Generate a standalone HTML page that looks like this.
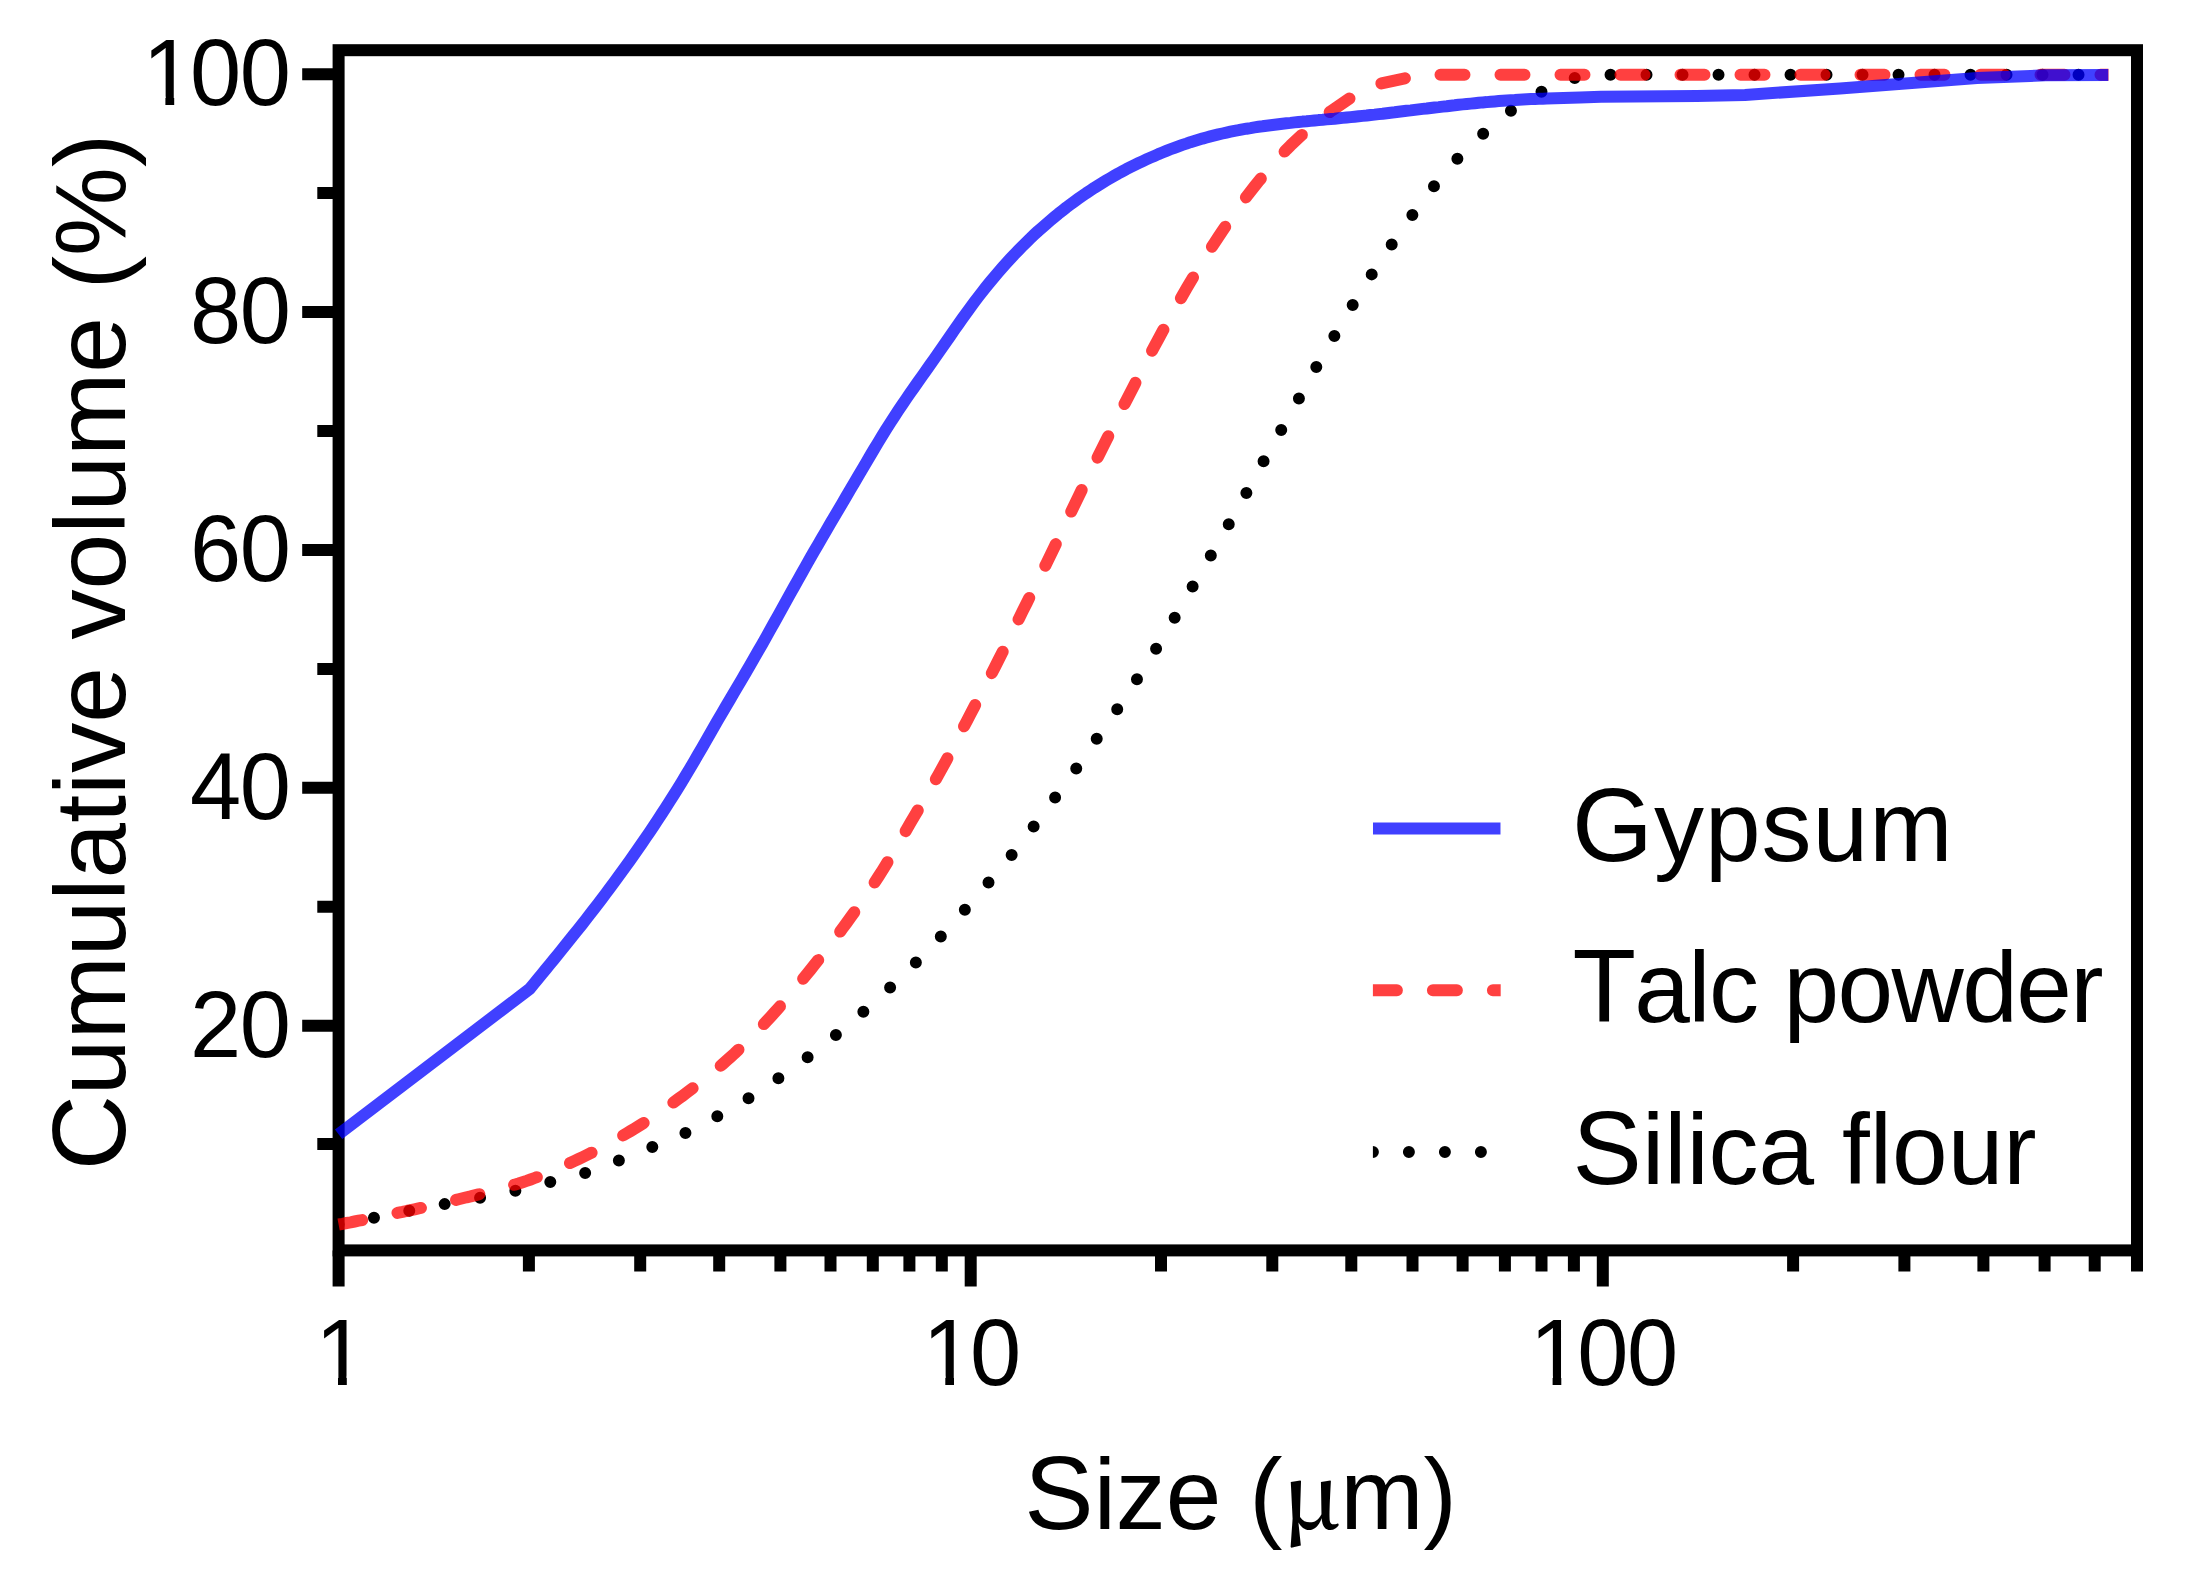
<!DOCTYPE html>
<html lang="en"><head><meta charset="utf-8"><title>Cumulative volume vs size</title>
<style>html,body{margin:0;padding:0;background:#fff}body{width:2190px;height:1595px;overflow:hidden}svg{display:block;filter:blur(0.7px)}text{font-family:"Liberation Sans",Arial,sans-serif;fill:#000;font-kerning:none}.tk{font-size:92px}.ti{font-size:100px}.cap{font-size:104px}.mu{font-family:"Noto Serif CJK SC","Liberation Serif",serif;font-size:90px;font-weight:600}</style></head><body>
<svg width="2190" height="1595" viewBox="0 0 2190 1595">
<rect width="2190" height="1595" fill="#fff"/>
<g fill="none" stroke="#000" stroke-width="12" stroke-linecap="butt">
<rect x="338.6" y="50.2" width="1798.4" height="1200.2"/>
<path d="M302.2 74.2H338.6M302.2 312.1H338.6M302.2 550.0H338.6M302.2 787.8H338.6M302.2 1025.7H338.6M317.3 193.1H338.6M317.3 431.0H338.6M317.3 668.9H338.6M317.3 906.8H338.6M317.3 1143.9H338.6M338.6 1250.4V1286.4M528.9 1250.4V1271.4M640.2 1250.4V1271.4M719.2 1250.4V1271.4M780.4 1250.4V1271.4M830.5 1250.4V1271.4M872.8 1250.4V1271.4M909.4 1250.4V1271.4M941.8 1250.4V1271.4M970.7 1250.4V1286.4M1161.0 1250.4V1271.4M1272.3 1250.4V1271.4M1351.3 1250.4V1271.4M1412.5 1250.4V1271.4M1462.6 1250.4V1271.4M1504.9 1250.4V1271.4M1541.5 1250.4V1271.4M1573.9 1250.4V1271.4M1602.8 1250.4V1286.4M1793.1 1250.4V1271.4M1904.4 1250.4V1271.4M1983.4 1250.4V1271.4M2044.6 1250.4V1271.4M2094.7 1250.4V1271.4M2137.0 1250.4V1271.4"/>
</g>
<defs><clipPath id="cp"><path d="M342.3 1244.2L334.9 1204.8V0H2108.5V1300H342.3Z"/></clipPath></defs>
<g fill="none" stroke-width="12" stroke-linejoin="round" clip-path="url(#cp)">
<polyline points="338.6,1224.5 342.6,1223.8 346.6,1223.0 350.6,1222.3 354.6,1221.6 358.6,1220.8 362.6,1220.0 366.6,1219.3 370.6,1218.5 374.6,1217.7 378.6,1216.9 382.6,1216.1 386.6,1215.3 390.6,1214.5 394.6,1213.7 398.6,1212.8 402.5,1212.0 406.5,1211.2 410.5,1210.5 414.5,1209.7 418.5,1208.9 422.5,1208.2 426.5,1207.4 430.5,1206.7 434.5,1206.0 438.5,1205.2 442.5,1204.5 446.5,1203.8 450.5,1203.0 454.5,1202.3 458.5,1201.6 462.5,1200.9 466.5,1200.2 470.5,1199.5 474.5,1198.8 478.5,1198.0 482.5,1197.3 486.5,1196.5 490.5,1195.8 494.5,1195.0 498.5,1194.2 502.5,1193.4 506.5,1192.6 510.5,1191.7 514.5,1190.9 518.5,1190.0 522.4,1189.0 526.4,1188.1 530.4,1187.0 534.4,1186.0 538.4,1185.0 542.4,1183.9 546.4,1182.9 550.4,1181.9 554.4,1180.9 558.4,1179.9 562.4,1178.9 566.4,1178.0 570.4,1177.0 574.4,1176.0 578.4,1174.9 582.4,1173.8 586.4,1172.6 590.4,1171.3 594.4,1169.9 598.4,1168.4 602.4,1166.9 606.4,1165.3 610.4,1163.8 614.4,1162.2 618.4,1160.6 622.4,1159.1 626.4,1157.5 630.4,1155.9 634.4,1154.3 638.4,1152.7 642.3,1151.1 646.3,1149.5 650.3,1147.9 654.3,1146.2 658.3,1144.6 662.3,1142.9 666.3,1141.3 670.3,1139.6 674.3,1137.9 678.3,1136.2 682.3,1134.4 686.3,1132.6 690.3,1130.6 694.3,1128.6 698.3,1126.5 702.3,1124.4 706.3,1122.3 710.3,1120.1 714.3,1117.9 718.3,1115.7 722.3,1113.5 726.3,1111.3 730.3,1109.0 734.3,1106.7 738.3,1104.4 742.3,1102.1 746.3,1099.7 750.3,1097.2 754.3,1094.7 758.3,1092.1 762.2,1089.4 766.2,1086.7 770.2,1083.9 774.2,1081.1 778.2,1078.4 782.2,1075.6 786.2,1072.8 790.2,1069.9 794.2,1067.1 798.2,1064.2 802.2,1061.2 806.2,1058.3 810.2,1055.3 814.2,1052.2 818.2,1049.1 822.2,1046.0 826.2,1042.8 830.2,1039.6 834.2,1036.3 838.2,1033.1 842.2,1029.8 846.2,1026.4 850.2,1023.0 854.2,1019.6 858.2,1016.1 862.2,1012.7 866.2,1009.2 870.2,1005.7 874.2,1002.1 878.2,998.6 882.1,995.0 886.1,991.3 890.1,987.6 894.1,983.9 898.1,980.0 902.1,976.1 906.1,972.2 910.1,968.2 914.1,964.2 918.1,960.2 922.1,956.1 926.1,952.0 930.1,947.8 934.1,943.7 938.1,939.4 942.1,935.1 946.1,930.8 950.1,926.3 954.1,921.9 958.1,917.4 962.1,912.8 966.1,908.3 970.1,903.8 974.1,899.2 978.1,894.6 982.1,890.0 986.1,885.4 990.1,880.7 994.1,876.1 998.1,871.4 1002.0,866.7 1006.0,861.9 1010.0,857.0 1014.0,852.1 1018.0,847.0 1022.0,841.8 1026.0,836.6 1030.0,831.3 1034.0,826.0 1038.0,820.7 1042.0,815.3 1046.0,809.9 1050.0,804.5 1054.0,799.1 1058.0,793.6 1062.0,788.2 1066.0,782.7 1070.0,777.2 1074.0,771.6 1078.0,766.0 1082.0,760.2 1086.0,754.4 1090.0,748.6 1094.0,742.8 1098.0,737.0 1102.0,731.3 1106.0,725.5 1110.0,719.8 1114.0,714.0 1118.0,708.1 1121.9,702.2 1125.9,696.1 1129.9,690.0 1133.9,683.9 1137.9,677.7 1141.9,671.4 1145.9,665.0 1149.9,658.6 1153.9,652.2 1157.9,645.7 1161.9,639.1 1165.9,632.5 1169.9,625.8 1173.9,619.1 1177.9,612.3 1181.9,605.3 1185.9,598.3 1189.9,591.3 1193.9,584.4 1197.9,577.6 1201.9,570.7 1205.9,563.9 1209.9,557.1 1213.9,550.2 1217.9,543.3 1221.9,536.3 1225.9,529.3 1229.9,522.3 1233.9,515.3 1237.9,508.3 1241.8,501.2 1245.8,494.0 1249.8,486.7 1253.8,479.3 1257.8,471.9 1261.8,464.5 1265.8,457.3 1269.8,450.1 1273.8,443.0 1277.8,436.0 1281.8,428.9 1285.8,421.8 1289.8,414.8 1293.8,407.7 1297.8,400.6 1301.8,393.4 1305.8,386.1 1309.8,378.8 1313.8,371.5 1317.8,364.4 1321.8,357.4 1325.8,350.5 1329.8,343.7 1333.8,336.9 1337.8,330.0 1341.8,323.2 1345.8,316.4 1349.8,309.7 1353.8,303.1 1357.8,296.6 1361.7,290.1 1365.7,283.7 1369.7,277.5 1373.7,271.3 1377.7,265.2 1381.7,259.2 1385.7,253.3 1389.7,247.4 1393.7,241.5 1397.7,235.7 1401.7,230.0 1405.7,224.3 1409.7,218.7 1413.7,213.1 1417.7,207.6 1421.7,202.2 1425.7,196.8 1429.7,191.6 1433.7,186.5 1437.7,181.6 1441.7,176.7 1445.7,171.9 1449.7,167.3 1453.7,162.8 1457.7,158.5 1461.7,154.3 1465.7,150.3 1469.7,146.3 1473.7,142.5 1477.7,138.7 1481.6,135.1 1485.6,131.5 1489.6,128.0 1493.6,124.6 1497.6,121.2 1501.6,117.9 1505.6,114.8 1509.6,111.8 1513.6,109.0 1517.6,106.3 1521.6,103.6 1525.6,101.0 1529.6,98.6 1533.6,96.2 1537.6,93.9 1541.6,91.8 1574.8,78.0 1602.8,74.7 2108.5,74.7" stroke="#000" stroke-linecap="round" stroke-dasharray="0 36"/>
<polyline points="338.6,1224.5 342.6,1223.8 346.6,1223.0 350.6,1222.3 354.6,1221.5 358.6,1220.7 362.6,1220.0 366.6,1219.2 370.6,1218.4 374.6,1217.6 378.6,1216.8 382.6,1216.0 386.6,1215.2 390.6,1214.4 394.6,1213.5 398.6,1212.7 402.6,1211.9 406.6,1211.0 410.6,1210.2 414.6,1209.3 418.6,1208.4 422.6,1207.6 426.6,1206.7 430.6,1205.8 434.6,1204.9 438.6,1204.0 442.6,1203.1 446.6,1202.2 450.6,1201.2 454.6,1200.3 458.6,1199.3 462.6,1198.3 466.6,1197.3 470.6,1196.4 474.6,1195.4 478.6,1194.4 482.6,1193.4 486.6,1192.4 490.6,1191.3 494.6,1190.3 498.6,1189.2 502.6,1188.1 506.6,1187.0 510.6,1185.9 514.6,1184.7 518.6,1183.5 522.6,1182.2 526.6,1180.9 530.6,1179.5 534.6,1178.0 538.6,1176.5 542.6,1174.9 546.6,1173.3 550.6,1171.7 554.6,1169.9 558.6,1168.2 562.6,1166.4 566.6,1164.6 570.6,1162.8 574.6,1160.9 578.6,1159.0 582.6,1157.1 586.6,1155.2 590.6,1153.2 594.6,1151.1 598.6,1149.0 602.6,1146.9 606.6,1144.8 610.6,1142.6 614.6,1140.3 618.6,1138.0 622.6,1135.7 626.6,1133.4 630.6,1131.0 634.6,1128.6 638.6,1126.1 642.6,1123.6 646.6,1121.0 650.6,1118.3 654.6,1115.7 658.6,1112.9 662.6,1110.2 666.6,1107.3 670.6,1104.5 674.6,1101.6 678.6,1098.7 682.6,1095.8 686.6,1092.8 690.6,1089.8 694.6,1086.8 698.6,1083.7 702.6,1080.6 706.6,1077.4 710.6,1074.2 714.6,1070.9 718.6,1067.5 722.6,1064.1 726.6,1060.6 730.6,1057.0 734.6,1053.4 738.6,1049.6 742.6,1045.8 746.6,1041.8 750.6,1037.8 754.6,1033.7 758.6,1029.6 762.6,1025.4 766.6,1021.1 770.6,1016.8 774.6,1012.4 778.6,1007.9 782.6,1003.3 786.6,998.7 790.6,994.0 794.6,989.2 798.6,984.3 802.6,979.4 806.6,974.5 810.6,969.6 814.6,964.6 818.6,959.6 822.6,954.5 826.6,949.4 830.6,944.2 834.6,939.0 838.6,933.7 842.6,928.3 846.6,922.9 850.6,917.3 854.6,911.7 858.6,906.1 862.6,900.3 866.6,894.5 870.6,888.6 874.6,882.5 878.6,876.4 882.6,870.1 886.6,863.6 890.6,857.0 894.6,850.2 898.6,843.3 902.6,836.4 906.6,829.5 910.6,822.6 914.6,815.8 918.6,809.0 922.6,802.2 926.6,795.4 930.6,788.5 934.6,781.5 938.6,774.4 942.6,767.2 946.6,759.8 950.6,752.2 954.6,744.6 958.6,736.8 962.6,729.1 966.6,721.4 970.6,713.7 974.6,706.1 978.6,698.4 982.6,690.8 986.6,683.2 990.6,675.5 994.6,667.7 998.6,659.8 1002.6,651.9 1006.6,643.8 1010.6,635.6 1014.6,627.5 1018.6,619.3 1022.6,611.2 1026.6,603.2 1030.6,595.2 1034.6,587.2 1038.6,579.2 1042.6,571.1 1046.6,563.1 1050.6,554.9 1054.6,546.6 1058.6,538.2 1062.6,529.8 1066.6,521.4 1070.6,512.9 1074.6,504.6 1078.6,496.3 1082.6,488.1 1086.6,479.9 1090.6,471.8 1094.6,463.6 1098.6,455.5 1102.6,447.5 1106.6,439.5 1110.6,431.5 1114.6,423.6 1118.6,415.7 1122.6,407.8 1126.6,400.0 1130.6,392.2 1134.6,384.4 1138.6,376.6 1142.6,368.9 1146.6,361.2 1150.6,353.6 1154.6,346.0 1158.6,338.6 1162.6,331.2 1166.6,323.8 1170.6,316.5 1174.6,309.3 1178.6,302.2 1182.6,295.2 1186.6,288.3 1190.6,281.5 1194.6,274.8 1198.6,268.2 1202.6,261.7 1206.6,255.2 1210.6,248.9 1214.6,242.7 1218.6,236.6 1222.6,230.6 1226.6,224.7 1230.6,218.8 1234.6,213.0 1238.6,207.4 1242.6,201.9 1246.6,196.5 1250.6,191.3 1254.6,186.2 1258.6,181.3 1262.6,176.4 1266.6,171.6 1270.6,166.9 1274.6,162.3 1278.6,157.9 1282.6,153.6 1286.6,149.4 1290.6,145.4 1294.6,141.6 1298.6,137.9 1302.6,134.2 1306.6,130.7 1310.6,127.2 1314.6,123.8 1318.6,120.6 1322.6,117.4 1326.6,114.4 1330.6,111.4 1334.6,108.7 1338.6,106.0 1367.0,86.5 1393.2,80.8 1422.0,74.7 2108.5,74.7" stroke="#f00" stroke-opacity="0.75" stroke-linecap="round" stroke-dasharray="24 36"/>
<polyline points="338.6,1134.2 529.7,988.9 533.7,984.0 537.7,979.2 541.7,974.3 545.7,969.4 549.7,964.5 553.7,959.6 557.7,954.7 561.7,949.8 565.7,944.8 569.7,939.8 573.7,934.8 577.8,929.8 581.8,924.7 585.8,919.6 589.8,914.4 593.8,909.3 597.8,904.1 601.8,898.8 605.8,893.5 609.8,888.2 613.8,882.8 617.8,877.3 621.8,871.8 625.8,866.3 629.8,860.7 633.8,855.0 637.8,849.3 641.8,843.5 645.8,837.7 649.8,831.8 653.8,825.8 657.8,819.7 661.8,813.6 665.8,807.4 669.9,801.1 673.9,794.8 677.9,788.3 681.9,781.8 685.9,775.2 689.9,768.5 693.9,761.7 697.9,754.8 701.9,747.9 705.9,741.0 709.9,734.0 713.9,727.0 717.9,720.1 721.9,713.2 725.9,706.4 729.9,699.6 733.9,692.8 737.9,686.0 741.9,679.2 745.9,672.4 749.9,665.5 753.9,658.6 757.9,651.6 762.0,644.5 766.0,637.4 770.0,630.2 774.0,623.0 778.0,615.8 782.0,608.6 786.0,601.4 790.0,594.2 794.0,587.0 798.0,579.8 802.0,572.7 806.0,565.6 810.0,558.6 814.0,551.6 818.0,544.7 822.0,537.8 826.0,531.0 830.0,524.1 834.0,517.3 838.0,510.5 842.0,503.7 846.0,496.9 850.0,490.0 854.1,483.2 858.1,476.3 862.1,469.5 866.1,462.7 870.1,455.9 874.1,449.1 878.1,442.5 882.1,435.9 886.1,429.4 890.1,423.1 894.1,416.9 898.1,410.8 902.1,404.9 906.1,399.0 910.1,393.2 914.1,387.5 918.1,381.8 922.1,376.1 926.1,370.5 930.1,364.8 934.1,359.1 938.1,353.4 942.1,347.6 946.2,341.8 950.2,336.0 954.2,330.2 958.2,324.5 962.2,318.8 966.2,313.2 970.2,307.7 974.2,302.3 978.2,297.0 982.2,291.9 986.2,286.8 990.2,281.9 994.2,277.1 998.2,272.4 1002.2,267.8 1006.2,263.3 1010.2,258.9 1014.2,254.6 1018.2,250.5 1022.2,246.4 1026.2,242.4 1030.2,238.5 1034.2,234.7 1038.2,231.0 1042.3,227.4 1046.3,223.9 1050.3,220.5 1054.3,217.1 1058.3,213.8 1062.3,210.7 1066.3,207.5 1070.3,204.5 1074.3,201.6 1078.3,198.7 1082.3,195.9 1086.3,193.1 1090.3,190.5 1094.3,187.8 1098.3,185.3 1102.3,182.8 1106.3,180.4 1110.3,178.1 1114.3,175.8 1118.3,173.5 1122.3,171.4 1126.3,169.2 1130.3,167.2 1134.4,165.2 1138.4,163.2 1142.4,161.3 1146.4,159.4 1150.4,157.6 1154.4,155.9 1158.4,154.1 1162.4,152.5 1166.4,150.9 1170.4,149.3 1174.4,147.8 1178.4,146.3 1182.4,144.9 1186.4,143.6 1190.4,142.2 1194.4,141.0 1198.4,139.8 1202.4,138.6 1206.4,137.5 1210.4,136.4 1214.4,135.4 1218.4,134.4 1222.4,133.5 1226.5,132.6 1230.5,131.7 1234.5,130.9 1238.5,130.2 1242.5,129.4 1246.5,128.7 1250.5,128.1 1254.5,127.4 1258.5,126.8 1262.5,126.3 1266.5,125.7 1270.5,125.2 1274.5,124.7 1278.5,124.2 1282.5,123.7 1286.5,123.3 1290.5,122.9 1294.5,122.4 1298.5,122.0 1302.5,121.6 1306.5,121.3 1310.5,120.9 1314.5,120.5 1318.6,120.1 1322.6,119.8 1326.6,119.4 1330.6,119.0 1334.6,118.7 1338.6,118.3 1342.6,117.9 1346.6,117.5 1350.6,117.1 1354.6,116.7 1358.6,116.3 1362.6,115.9 1366.6,115.5 1370.6,115.0 1374.6,114.6 1378.6,114.1 1382.6,113.7 1386.6,113.2 1390.6,112.7 1394.6,112.3 1398.6,111.8 1402.6,111.3 1406.6,110.8 1410.7,110.4 1414.7,109.9 1418.7,109.4 1422.7,108.9 1426.7,108.5 1430.7,108.0 1434.7,107.5 1438.7,107.1 1442.7,106.6 1446.7,106.2 1450.7,105.7 1454.7,105.3 1458.7,104.8 1462.7,104.4 1466.7,104.0 1470.7,103.6 1474.7,103.2 1478.7,102.8 1482.7,102.4 1486.7,102.1 1490.7,101.7 1494.7,101.4 1498.7,101.1 1502.8,100.8 1506.8,100.5 1510.8,100.2 1514.8,100.0 1518.8,99.7 1522.8,99.5 1526.8,99.3 1530.8,99.1 1534.8,99.0 1538.8,98.8 1542.8,98.7 1546.8,98.6 1580.0,97.4 1601.0,96.7 1697.0,95.9 1745.0,94.9 1840.0,88.5 1977.0,78.1 2045.5,75.3 2108.5,75.0" stroke="#00f" stroke-opacity="0.75" stroke-linecap="butt"/>
</g>
<text class="tk" transform="translate(0 105.20) scale(1 1.03)" x="142.6 190.1 239.7" y="0">100</text>
<text class="tk" transform="translate(0 343.08) scale(1 1.03)" x="190.1 239.7" y="0">80</text>
<text class="tk" transform="translate(0 580.96) scale(1 1.03)" x="190.1 239.7" y="0">60</text>
<text class="tk" transform="translate(0 818.84) scale(1 1.03)" x="190.1 239.7" y="0">40</text>
<text class="tk" transform="translate(0 1056.72) scale(1 1.03)" x="190.1 239.7" y="0">20</text>
<text class="tk" transform="translate(0 1384.50) scale(1 1.03)" x="315.2" y="0">1</text>
<text class="tk" transform="translate(0 1384.50) scale(1 1.03)" x="922.5 970.0" y="0">10</text>
<text class="tk" transform="translate(0 1384.50) scale(1 1.03)" x="1529.8 1577.2 1626.9" y="0">100</text>
<g fill="#fff"><rect x="148.1" y="96.5" width="17.3" height="10.3"/><rect x="174.2" y="96.5" width="16.9" height="10.3"/><rect x="320.7" y="1375.8" width="17.3" height="10.3"/><rect x="346.8" y="1375.8" width="16.9" height="10.3"/><rect x="928.0" y="1375.8" width="17.3" height="10.3"/><rect x="954.0" y="1375.8" width="16.9" height="10.3"/><rect x="1535.3" y="1375.8" width="17.3" height="10.3"/><rect x="1561.3" y="1375.8" width="16.9" height="10.3"/></g>
<text class="ti" text-anchor="middle" x="1240.6" y="1528.5"><tspan class="cap">S</tspan>ize (<tspan class="mu">μ</tspan>m)</text>
<text class="ti" text-anchor="middle" transform="translate(125.4 652) rotate(-90)"><tspan class="cap">C</tspan>umulative volume (%)</text>
<defs><clipPath id="lg"><rect x="1372.9" y="800" width="127.8" height="380"/></clipPath></defs>
<g fill="none" stroke-width="12" clip-path="url(#lg)">
<path d="M1372.9 828.4H1500.7" stroke="#00f" stroke-opacity="0.75"/>
<path d="M1372.9 990.2H1520" stroke="#f00" stroke-opacity="0.75" stroke-linecap="round" stroke-dasharray="24 36"/>
<path d="M1372.9 1151.9H1520" stroke="#000" stroke-linecap="round" stroke-dasharray="0 36"/>
</g>
<g class="ti">
<text x="1572.0" y="861.2" letter-spacing="1.0"><tspan class="cap">G</tspan>ypsum</text>
<text x="1572.4" y="1021.8" letter-spacing="-1.6"><tspan class="cap">T</tspan>alc powder</text>
<text x="1572.6" y="1184" letter-spacing="0"><tspan class="cap">S</tspan>ilica flour</text>
</g>
</svg></body></html>
